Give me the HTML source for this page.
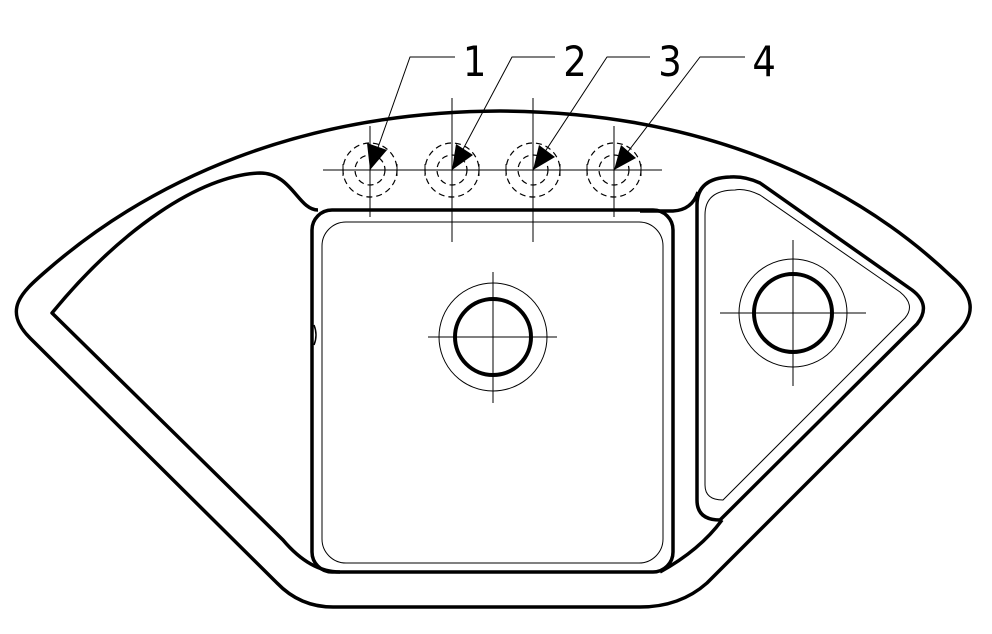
<!DOCTYPE html>
<html><head><style>html,body{margin:0;padding:0;background:#fff}svg{display:block}</style></head>
<body>
<svg width="992" height="634" viewBox="0 0 992 634" xmlns="http://www.w3.org/2000/svg">
<g fill="none" stroke="#000" stroke-linejoin="round">
<path stroke-width="3.5" d="M333,607 L640,607 Q680,607 707,583 L958,332 Q985,305 952,277 C850,180 700,112 500,111 C300,112 150,180 45,272 C22,292 2,310 30,338 L277,583 Q300,607 333,607 Z"/>
<path stroke-width="3.5" d="M318,210 C298,210 292,173 260,173 C200,175 120,230 52,313 L283,540 Q310,572 340,572"/>
<rect x="312" y="210" width="361" height="362" rx="20" stroke-width="3.5"/>
<rect x="322" y="222" width="341" height="341" rx="24" stroke-width="1"/>
<path stroke-width="1.5" d="M314,325 Q318,335 314,345"/>
<path stroke-width="3.5" d="M640,211 L673,211 Q692,210 698,192"/>
<path stroke-width="3.5" d="M660,572 Q700,550 722,520"/>
<path stroke-width="3.5" d="M697,205 L697,500 Q697,520 720,520 L917,324 Q932,305 912,290 L760,183 Q745,176 730,177 Q697,178 697,205 Z"/>
<path stroke-width="1" d="M705,215 L705,485 Q705,500 723,500 L905,318 Q916,305 900,292 L760,195 Q745,188 735,190 Q705,190 705,215 Z"/>
<circle cx="493" cy="337" r="38" stroke-width="4"/>
<circle cx="493" cy="337" r="54" stroke-width="1"/>
<path stroke-width="1" d="M428,337 H557 M493,272 V403"/>
<circle cx="793" cy="313" r="39" stroke-width="4"/>
<circle cx="793" cy="313" r="54" stroke-width="1"/>
<path stroke-width="1" d="M720,313 H866 M793,240 V386"/>
<path stroke-width="1" d="M323,170 H662 M370,126 V217 M452,98 V242 M533,98 V242 M614,126 V217"/>
<g stroke-width="1.2" stroke-dasharray="6,4">
<circle cx="370" cy="170" r="27"/><circle cx="370" cy="170" r="15"/>
<circle cx="452" cy="170" r="27"/><circle cx="452" cy="170" r="15"/>
<circle cx="533" cy="170" r="27"/><circle cx="533" cy="170" r="15"/>
<circle cx="614" cy="170" r="27"/><circle cx="614" cy="170" r="15"/>
</g>
<path stroke-width="1" d="M343,164 V176 M397,164 V176 M425,164 V176 M479,164 V176 M506,164 V176 M560,164 V176 M587,164 V176 M641,164 V176"/>
<path stroke-width="1" d="M455,57 H410 L370,170 M555,57 H512 L452,170 M650,57 H607 L533,170 M745,57 H700 L614,170"/>
</g>
<g fill="#000">
<polygon points="370,170 367,143 387,150"/>
<polygon points="452,170 456,144 473,155"/>
<polygon points="533,170 539,145 555,157"/>
<polygon points="614,170 621,145 636,158"/>
</g>
<g font-family="DejaVu Sans, sans-serif" font-size="42" fill="#000" transform="scale(0.88,1)">
<text x="526" y="76">1</text>
<text x="640" y="76">2</text>
<text x="748" y="76">3</text>
<text x="855" y="76">4</text>
</g>
</svg>
</body></html>
